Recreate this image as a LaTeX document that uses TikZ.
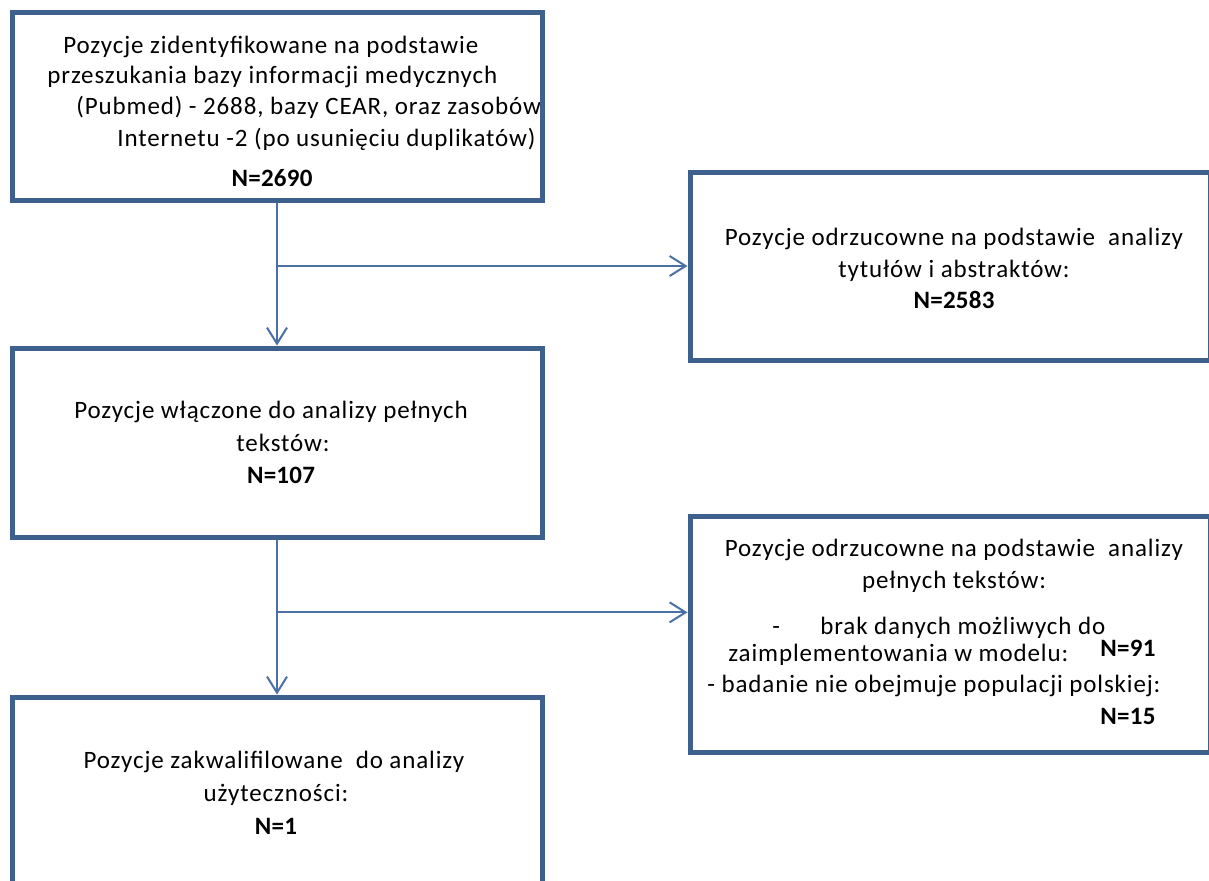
\documentclass[tikz,border=0pt]{standalone}
\usepackage{fontspec}
\setmainfont{Carlito}[LetterSpace=3.5,BoldFeatures={LetterSpace=1}]
\usetikzlibrary{arrows.meta,calc}
\definecolor{boxblue}{RGB}{62,96,140}
\definecolor{lineblue}{RGB}{74,112,165}
\tikzset{
  box/.style={draw=boxblue, line width=2.5pt, rectangle, inner sep=0pt},
  txt/.style={inner sep=0pt, font=\fontsize{12.5}{14}\selectfont, text=black},
  ntxt/.style={txt, font=\fontsize{12.5}{14}\selectfont\bfseries},
  arr/.style={draw=lineblue, line width=1pt, -{Straight Barb[length=8pt,width=10pt,line width=1pt]}},
  conn/.style={draw=lineblue, line width=1pt}
}
\begin{document}
\begin{tikzpicture}[x=0.5pt,y=-0.5pt]
\useasboundingbox (0,0) rectangle (1209,880);
\clip (0,0) rectangle (1209,880);
\fill[white] (0,0) rectangle (1209,880);
% texts box 1
\node[txt, anchor=base west] (t1a) at (63,53) {Pozycje zidentyfikowane na podstawie};
\node[txt, anchor=base west] (t1b) at (47,83) {przeszukania bazy informacji medycznych};
\node[txt, anchor=base west] (t1c) at (76,114) {(Pubmed) - 2688, bazy CEAR, oraz zasobów};
\node[txt, anchor=base west] (t1d) at (117,146) {Internetu -2 (po usunięciu duplikatów)};
\node[ntxt, anchor=base] (t1e) at (272,186) {N=2690};
% texts R1
\node[txt, anchor=base] (r1a) at (954,245) {Pozycje odrzucowne na podstawie \ analizy};
\node[txt, anchor=base] (r1b) at (954,277) {tytułów i abstraktów:};
\node[ntxt, anchor=base] (r1c) at (954,308) {N=2583};
% texts box 2
\node[txt, anchor=base] (t2a) at (271,418) {Pozycje włączone do analizy pełnych};
\node[txt, anchor=base] (t2b) at (283,451) {tekstów:};
\node[ntxt, anchor=base] (t2c) at (281,483) {N=107};
% texts R2
\node[txt, anchor=base] (r2a) at (954,556) {Pozycje odrzucowne na podstawie \ analizy};
\node[txt, anchor=base] (r2b) at (954,588) {pełnych tekstów:};
\node[txt, anchor=base west] (r2c) at (772,634) {-};
\node[txt, anchor=base west] (r2d) at (820,634) {brak danych możliwych do};
\node[txt, anchor=base west] (r2e) at (728,661) {zaimplementowania w modelu:};
\node[ntxt, anchor=base west] (r2f) at (1100,656) {N=91};
\node[txt, anchor=base west] (r2g) at (707,692) {- badanie nie obejmuje populacji polskiej:};
\node[ntxt, anchor=base west] (r2h) at (1100,724) {N=15};
% texts box 3
\node[txt, anchor=base] (t3a) at (274,768) {Pozycje zakwalifilowane \ do analizy};
\node[txt, anchor=base] (t3b) at (276,801) {użyteczności:};
\node[ntxt, anchor=base] (t3c) at (276,834) {N=1};
% boxes
\node[box, minimum width=265pt, minimum height=94pt] (b1) at (277,106) {};
\node[box, minimum width=260pt, minimum height=94pt] (r1) at (950,266) {};
\node[box, minimum width=265pt, minimum height=94.5pt] (b2) at (277,442.5) {};
\node[box, minimum width=260pt, minimum height=118pt] (r2) at (950,634) {};
\node[box, minimum width=265pt, minimum height=120pt] (b3) at (277,817) {};
% connectors
\draw[arr] (b1.south) -- (b2.north);
\draw[arr] (r1.west -| b1.south) -- (r1.west);
\draw[arr] (b2.south) -- (b3.north);
\coordinate (j2) at ($(b2.south)!0.47!(b3.north)$);
\draw[arr] (j2) -- (j2 -| r2.west);
\end{tikzpicture}
\end{document}
